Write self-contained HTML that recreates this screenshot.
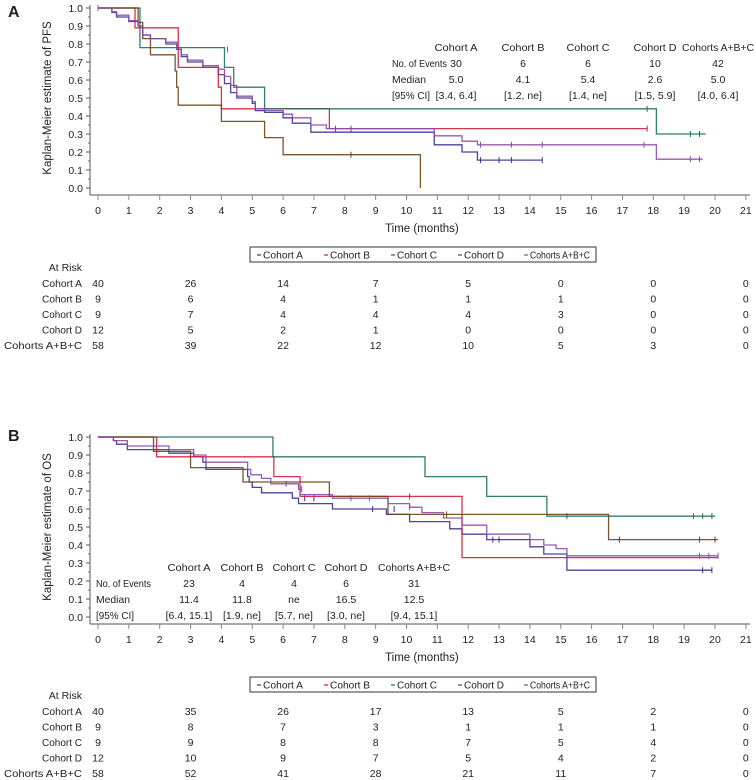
<!DOCTYPE html>
<html><head><meta charset="utf-8">
<style>
html,body{margin:0;padding:0;background:#fff;}
svg{display:block;font-family:"Liberation Sans",Arial,sans-serif;}
text{fill:#222;font-size:10px;}
</style></head>
<body>
<svg id="fig" width="756" height="780" viewBox="0 0 756 780"></svg>
<script>
// ---- data ----
const cohortNames = ["Cohort A","Cohort B","Cohort C","Cohort D","Cohorts A+B+C"];
const cohortColors = ["#3a2d91","#d01c3c","#1d6e60","#6b4317","#8a4aa6"];
const xTicks = [0,1,2,3,4,5,6,7,8,9,10,11,12,13,14,15,16,17,18,19,20,21];
const yTicks = [0,0.1,0.2,0.3,0.4,0.5,0.6,0.7,0.8,0.9,1.0];
const riskTimes = [0,3,6,9,12,15,18,21];

// PFS step curves: [time, survival]
const pfsA = [[0,1],[0.45,0.975],[0.6,0.95],[1.0,0.925],[1.3,0.9],[1.45,0.85],[1.7,0.83],[2.2,0.8],[2.55,0.77],[2.7,0.73],[2.9,0.7],[3.4,0.67],[3.9,0.63],[4.1,0.58],[4.3,0.53],[4.5,0.5],[5.0,0.47],[5.1,0.43],[5.4,0.42],[6.0,0.39],[6.3,0.36],[6.9,0.31],[10.9,0.24],[11.8,0.2],[12.3,0.155],[14.4,0.155]];
const pfsB = [[0,1],[1.2,0.89],[2.6,0.67],[3.9,0.56],[4.0,0.44],[7.5,0.33],[17.8,0.33]];
const pfsC = [[0,1],[1.36,0.78],[4.1,0.67],[4.4,0.56],[5.4,0.44],[18.1,0.3],[19.7,0.3]];
const pfsD = [[0,1],[1.3,0.92],[1.45,0.83],[1.7,0.74],[2.5,0.65],[2.55,0.56],[2.6,0.46],[4.0,0.37],[5.4,0.28],[6.0,0.185],[10.45,0.0]];
const pfsABC = [[0,1],[0.45,0.98],[0.6,0.96],[1.0,0.93],[1.3,0.9],[1.45,0.85],[1.7,0.83],[2.2,0.81],[2.55,0.77],[2.7,0.74],[2.9,0.71],[3.4,0.68],[3.9,0.66],[4.1,0.62],[4.3,0.57],[4.5,0.51],[5.0,0.48],[5.1,0.44],[5.4,0.43],[6.0,0.41],[6.3,0.39],[6.9,0.35],[7.4,0.33],[10.9,0.29],[11.8,0.26],[12.3,0.24],[18.1,0.16],[19.6,0.16]];
const pfsCensor = [[[12.4,14.4,13.4,13.0],[0.155,0.155,0.155,0.155]],[[7.7,8.2,17.8],[0.33,0.33,0.33]],[[17.8,19.2,19.5],[0.44,0.3,0.3]],[[8.2],[0.185]],[[0,4.2,12.4,13.4,14.4,17.7,19.2,19.5],[1,0.77,0.24,0.24,0.24,0.24,0.16,0.16]]];

// OS step curves
const osA = [[0,1],[0.5,0.98],[0.6,0.96],[0.95,0.93],[2.3,0.91],[3.1,0.89],[3.4,0.86],[3.5,0.82],[4.85,0.78],[4.9,0.75],[5.0,0.72],[5.3,0.69],[6.3,0.66],[6.5,0.63],[7.6,0.6],[9.35,0.57],[10.1,0.53],[11.4,0.49],[11.8,0.46],[12.6,0.43],[14.0,0.39],[14.45,0.35],[15.2,0.26],[19.9,0.26]];
const osB = [[0,1],[1.9,0.89],[5.7,0.78],[6.55,0.67],[11.8,0.33],[20.1,0.33]];
const osC = [[0,1],[5.67,0.89],[10.6,0.78],[12.6,0.67],[14.55,0.56],[20.0,0.56]];
const osD = [[0,1],[1.8,0.92],[3.0,0.83],[4.7,0.75],[7.5,0.67],[9.4,0.57],[16.55,0.43],[20.1,0.43]];
const osABC = [[0,1],[0.5,0.98],[0.95,0.95],[2.3,0.93],[3.1,0.9],[3.5,0.86],[4.85,0.82],[4.95,0.79],[5.3,0.77],[5.6,0.74],[6.5,0.71],[6.55,0.68],[7.6,0.66],[9.4,0.63],[10.1,0.61],[10.5,0.58],[11.2,0.55],[11.8,0.51],[12.6,0.46],[14.0,0.43],[14.45,0.4],[14.85,0.38],[15.2,0.34],[20.1,0.34]];
const osCensor = [[[6.7,7.0,8.9,9.6,12.8,13.0,19.6,19.9],[0.66,0.66,0.6,0.6,0.43,0.43,0.26,0.26]],[[10.1],[0.67]],[[15.2,19.3,19.6,19.9],[0.56,0.56,0.56,0.56]],[[11.3,16.9,19.5,20.0],[0.57,0.43,0.43,0.43]],[[6.1,6.6,8.2,8.8,10.1,19.5,19.8,20.1],[0.74,0.71,0.66,0.66,0.61,0.34,0.34,0.34]]];

const pfsStatsHead = ["No. of Events","Median","[95% CI]"];
const pfsEvents = ["30","6","6","10","42"];
const pfsMedian = ["5.0","4.1","5.4","2.6","5.0"];
const pfsCI = ["[3.4, 6.4]","[1.2, ne]","[1.4, ne]","[1.5, 5.9]","[4.0, 6.4]"];
const osEvents = ["23","4","4","6","31"];
const osMedian = ["11.4","11.8","ne","16.5","12.5"];
const osCI = ["[6.4, 15.1]","[1.9, ne]","[5.7, ne]","[3.0, ne]","[9.4, 15.1]"];

const pfsRisk = [[40,26,14,7,5,0,0,0],[9,6,4,1,1,1,0,0],[9,7,4,4,4,3,0,0],[12,5,2,1,0,0,0,0],[58,39,22,12,10,5,3,0]];
const osRisk = [[40,35,26,17,13,5,2,0],[9,8,7,3,1,1,1,0],[9,9,8,8,7,5,4,0],[12,10,9,7,5,4,2,0],[58,52,41,28,21,11,7,0]];

// ---- drawing ----
const svg = document.getElementById('fig');
const NS = "http://www.w3.org/2000/svg";
function mk(tag, attrs, parent){const e=document.createElementNS(NS,tag);for(const k in attrs)e.setAttribute(k,attrs[k]);(parent||svg).appendChild(e);return e;}
function txt(x,y,s,anchor,parent,size,len){const t=mk('text',{x:x,y:y,'text-anchor':anchor||'middle'},parent);if(size)t.style.fontSize=size+'px';if(len){t.setAttribute('textLength',len);t.setAttribute('lengthAdjust','spacingAndGlyphs');}t.textContent=s;return t;}

function panel(cfg){
  const g = mk('g',{});
  
  
  const X0=98, XS=30.85, Y0=cfg.y0, YS=180;
  const sx=t=>X0+t*XS, sy=v=>Y0-v*YS;
  const L=txt(8,cfg.letterY,cfg.letter,'start',g,16); L.style.fontWeight='bold';
  
  
  const ax=mk('g',{},g);
  
  
  mk('line',{x1:90,y1:sy(1)-3,x2:90,y2:Y0+7,stroke:'#555','stroke-width':1},ax);
  yTicks.forEach(v=>{mk('line',{x1:86,y1:sy(v),x2:90,y2:sy(v),stroke:'#555'},ax);txt(83,sy(v)+4,v.toFixed(1),'end',ax,10.5);});
  for(let v=0.05;v<1;v+=0.1)mk('line',{x1:88,y1:sy(v),x2:90,y2:sy(v),stroke:'#777'},ax);
  const yl=txt(0,0,cfg.ylabel,'middle',g,11.5);
  yl.setAttribute('transform',`translate(51,${sy(0.5)}) rotate(-90)`);
  
  
  const xa=mk('g',{},g);
  
  
  const AY=Y0+7;
  mk('line',{x1:90,y1:AY,x2:750,y2:AY,stroke:'#555'},xa);
  xTicks.forEach(t=>{mk('line',{x1:sx(t),y1:AY,x2:sx(t),y2:AY+5,stroke:'#888'},xa);txt(sx(t),AY+19,String(t),'middle',xa,10.5);});
  const xt=txt(sx(10.5),AY+37,'Time (months)','middle',g,11.5);
  
  
  cfg.curves.forEach((c,i)=>{
    let d=`M${sx(c[0][0])},${sy(c[0][1])}`;
    for(let k=1;k<c.length;k++){d+=`H${sx(c[k][0])}V${sy(c[k][1])}`;}
    const p=mk('path',{d:d,fill:'none',stroke:cohortColors[i],'stroke-width':1.3,'stroke-opacity':0.9},g);
    
    
    const cz=cfg.censor[i];
    cz[0].forEach((t,k)=>{const m=mk('line',{x1:sx(t),y1:sy(cz[1][k])-3,x2:sx(t),y2:sy(cz[1][k])+3,stroke:cohortColors[i],'stroke-width':1},g);
      
      });
  });
  const st=mk('g',{},g);
  
  
  cfg.statCols.forEach((cx,i)=>{
    txt(cx,cfg.statY,cohortNames[i],'middle',st,10.5,i===4?72:43);
    txt(cx,cfg.statY+16,cfg.events[i],'middle',st,10.5);
    txt(cx,cfg.statY+32,cfg.median[i],'middle',st,10.5);
    txt(cx,cfg.statY+48,cfg.ci[i],'middle',st,10.5);
  });
  const headLen=[55,34,38];
  pfsStatsHead.forEach((h,k)=>txt(cfg.statLabelX,cfg.statY+16*(k+1),h,'start',st,10.5,headLen[k]));
  const lg=mk('g',{},g);
  
  
  const LY=cfg.legendY;
  mk('rect',{x:250,y:LY,width:346,height:15,fill:'#fff',stroke:'#333','stroke-width':1},lg);
  const lx=[257,324,391,458,524];
  cohortNames.forEach((n,i)=>{
    const e=mk('g',{},lg);
    
    
    mk('line',{x1:lx[i],y1:LY+8,x2:lx[i]+4,y2:LY+8,stroke:cohortColors[i],'stroke-width':1.2},e);
    txt(lx[i]+6,LY+11.5,n,'start',e,10.5,i===4?60:40);
  });
  const rk=mk('g',{},g);
  
  
  txt(82,cfg.riskY,'At Risk','end',rk,10.5);
  cfg.risk.forEach((row,i)=>{
    const ry=cfg.riskY+16+i*15.5;
    txt(82,ry,cohortNames[i],'end',rk,10.5,i===4?78:40);
    row.forEach((v,k)=>txt(sx(riskTimes[k]),ry,String(v),'middle',rk,10.5));
  });
}

panel({name:'pfs-panel',letter:'A',letterY:17,y0:188,ylabel:'Kaplan-Meier estimate of PFS',
  curves:[pfsA,pfsB,pfsC,pfsD,pfsABC],censor:pfsCensor,
  statCols:[456,523,588,655,718],statY:51,statLabelX:392,
  events:pfsEvents,median:pfsMedian,ci:pfsCI,legendY:247,riskY:271,risk:pfsRisk});
panel({name:'os-panel',letter:'B',letterY:441,y0:617,ylabel:'Kaplan-Meier estimate of OS',
  curves:[osA,osB,osC,osD,osABC],censor:osCensor,
  statCols:[189,242,294,346,414],statY:571,statLabelX:96,
  events:osEvents,median:osMedian,ci:osCI,legendY:677,riskY:699,risk:osRisk});
</script>
</body></html>
